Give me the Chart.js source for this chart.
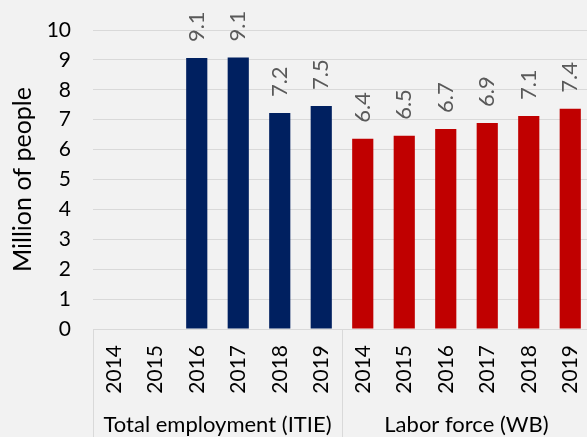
<!DOCTYPE html>
<html>
<head>
<meta charset="utf-8">
<script src="https://cdn.jsdelivr.net/npm/chart.js@4/dist/chart.umd.min.js"></script>
<style>
  html, body { margin: 0; padding: 0; background: #f2f2f2; overflow: hidden; }
  #wrap { width: 591px; height: 437px; position: relative; }
</style>
</head>
<body>
<div id="wrap"><canvas id="jobsChart"></canvas></div>
<script>
// ---- data ----
const years = ['2014', '2015', '2016', '2017', '2018', '2019']
const groups = ['Total employment (ITIE)', 'Labor force (WB)']
const employment = [null, null, 9.06, 9.08, 7.22, 7.46]
const laborForce = [6.36, 6.46, 6.69, 6.89, 7.12, 7.37]

const labels = years.concat(years)
const blanks = years.map(() => null)

// value labels above bars, rotated
const valueLabels = {
    id: 'valueLabels',
    afterDatasetsDraw(chart) {
        const ctx = chart.ctx
        ctx.save()
        ctx.font = '22px Lato'
        ctx.fillStyle = '#595959'
        ctx.textAlign = 'left'
        ctx.textBaseline = 'middle'
        chart.data.datasets.forEach((ds, i) => {
            chart.getDatasetMeta(i).data.forEach((bar, j) => {
                const v = ds.data[j]
                if (v == null) return
                ctx.save()
                ctx.translate(bar.x, bar.y - 16)
                ctx.rotate(-Math.PI / 2)
                ctx.fillText(v.toFixed(1), 0, 0)
                ctx.restore()
            })
        })
        ctx.restore()
    }
}

// group labels + divider lines under the axis
const groupAxis = {
    id: 'groupAxis',
    afterDraw(chart) {
        const ctx = chart.ctx
        const x = chart.scales.x
        const step = (x.right - x.left) / labels.length
        const bottom = chart.chartArea.bottom
        ctx.save()
        ctx.strokeStyle = '#d9d9d9'
        ctx.lineWidth = 1
        for (let g = 0; g <= groups.length; g++) {
            const px = Math.round(x.left + g * years.length * step) + 0.5
            ctx.beginPath()
            ctx.moveTo(px, bottom)
            ctx.lineTo(px, chart.height)
            ctx.stroke()
        }
        ctx.font = '22px Lato'
        ctx.fillStyle = '#000'
        ctx.textAlign = 'center'
        ctx.textBaseline = 'middle'
        groups.forEach((name, g) => {
            const cx = x.left + (g + 0.5) * years.length * step
            ctx.fillText(name, cx, 425)
        })
        ctx.restore()
    }
}

const ctx = document.getElementById('jobsChart')
const jobsChart = new Chart(ctx, {
    type: 'bar',
    data: {
        labels: labels,
        datasets: [{
            data: employment.concat(blanks),
            backgroundColor: '#002060',
            grouped: false,
            barPercentage: 0.51,
            categoryPercentage: 1
        }, {
            data: blanks.concat(laborForce),
            backgroundColor: '#c00000',
            grouped: false,
            barPercentage: 0.51,
            categoryPercentage: 1
        }]
    },
    options: {
        responsive: true,
        maintainAspectRatio: false,
        animation: false,
        layout: { padding: { top: 30, right: 0, left: 0, bottom: 0 } },
        plugins: {
            legend: { display: false },
            tooltip: { enabled: false }
        },
        scales: {
            x: {
                grid: { display: false, drawTicks: false },
                border: { display: true, color: '#d9d9d9' },
                ticks: {
                    color: '#000',
                    font: { family: 'Lato', size: 21 },
                    minRotation: 90,
                    maxRotation: 90,
                    padding: 16,
                    autoSkip: false
                },
                afterFit(scale) {
                    scale.height = 108
                    scale.paddingLeft = 0
                    scale.paddingRight = 0
                }
            },
            y: {
                min: 0,
                max: 10,
                ticks: {
                    stepSize: 1,
                    color: '#000',
                    font: { family: 'Lato', size: 21 },
                    padding: 22
                },
                grid: { color: '#d9d9d9', drawTicks: false },
                border: { display: false },
                title: {
                    display: true,
                    text: 'Million of people',
                    color: '#000',
                    font: { family: 'Lato', size: 25 },
                    padding: { top: 8, bottom: 0 }
                },
                afterFit(scale) {
                    scale.width = 93
                    scale.paddingTop = 0
                    scale.paddingBottom = 0
                }
            }
        }
    },
    plugins: [valueLabels, groupAxis]
})
</script>
</body>
</html>
